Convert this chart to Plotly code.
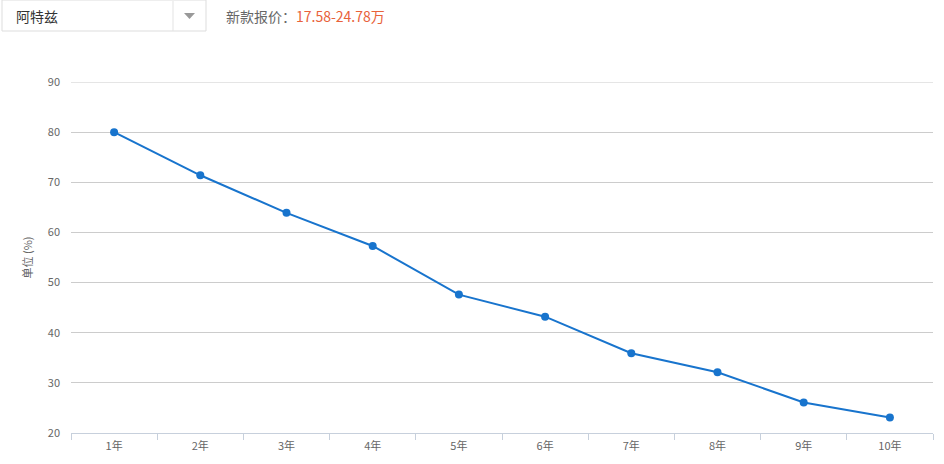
import plotly.graph_objects as go

# Residual value by year (%)
years = ["1年", "2年", "3年", "4年", "5年", "6年", "7年", "8年", "9年", "10年"]
values = [80.0, 71.4, 63.9, 57.3, 47.6, 43.2, 35.9, 32.1, 26.1, 23.1]
y_ticks = [20, 30, 40, 50, 60, 70, 80, 90]

car_name = "阿特兹"
price_range = "17.58-24.78万"

W, H = 944, 464
L, R, T, B = 71, 11, 82, 31
pw, ph = W - L - R, H - T - B


def px(x):
    return (x - L) / pw


def py(y):
    return (H - B - y) / ph


fig = go.Figure()

fig.add_trace(go.Scatter(
    x=years,
    y=values,
    mode="lines+markers",
    line=dict(color="#1874cd", width=2),
    marker=dict(color="#1874cd", size=8),
    cliponaxis=False,
    hoverinfo="x+y",
))

shapes = [
    # top gridline (plotly skips the one on the range edge)
    dict(type="line", xref="paper", yref="y", x0=0, x1=1, y0=y_ticks[-1], y1=y_ticks[-1],
         line=dict(color="#cccccc", width=1), layer="below"),
    # dropdown box in header
    dict(type="rect", xref="paper", yref="paper",
         x0=px(2), x1=px(206), y0=py(31), y1=py(0),
         line=dict(color="#dddddd", width=1), fillcolor="white"),
    dict(type="line", xref="paper", yref="paper",
         x0=px(173), x1=px(173), y0=py(31), y1=py(1),
         line=dict(color="#e3e3e3", width=1)),
    dict(type="path", xref="paper", yref="paper",
         path="M {} {} L {} {} L {} {} Z".format(px(184), py(13), px(195), py(13), px(189.5), py(19)),
         line=dict(color="#999999", width=0), fillcolor="#999999"),
]

annotations = [
    dict(text=car_name, xref="paper", yref="paper", x=px(14), y=py(16),
         xanchor="left", yanchor="middle", showarrow=False,
         font=dict(size=14, color="#333333", family="Noto Sans CJK SC")),
    dict(text="新款报价：<span style='color:#e8623a'>" + price_range + "</span>",
         xref="paper", yref="paper", x=px(224), y=py(16),
         xanchor="left", yanchor="middle", showarrow=False,
         font=dict(size=14, color="#666666", family="Noto Sans CJK SC")),
]

fig.update_layout(
    width=W, height=H,
    margin=dict(l=L, r=R, t=T, b=B),
    paper_bgcolor="white",
    plot_bgcolor="white",
    showlegend=False,
    shapes=shapes,
    annotations=annotations,
    font=dict(family="Noto Sans CJK SC", color="#666666", size=11),
)

fig.update_xaxes(
    type="category",
    tickson="boundaries",
    ticks="outside",
    ticklen=6,
    tickcolor="#c7d0dc",
    showline=True,
    linecolor="#c7d0dc",
    linewidth=1,
    showgrid=False,
    ticklabelstandoff=3,
    tickfont=dict(size=11, color="#666666"),
    range=[-0.5, len(years) - 0.5],
)

fig.update_yaxes(
    range=[20, 90],
    tickvals=y_ticks,
    showgrid=True,
    gridcolor="#cccccc",
    gridwidth=1,
    zeroline=False,
    showline=False,
    ticks="",
    ticklabelstandoff=10,
    tickfont=dict(size=11, color="#666666"),
    title=dict(text="单位 (%)", font=dict(size=11, color="#666666"), standoff=12),
)

fig.write_html("out.html", config={"displayModeBar": False},
               post_script="document.body.style.margin='0';")
